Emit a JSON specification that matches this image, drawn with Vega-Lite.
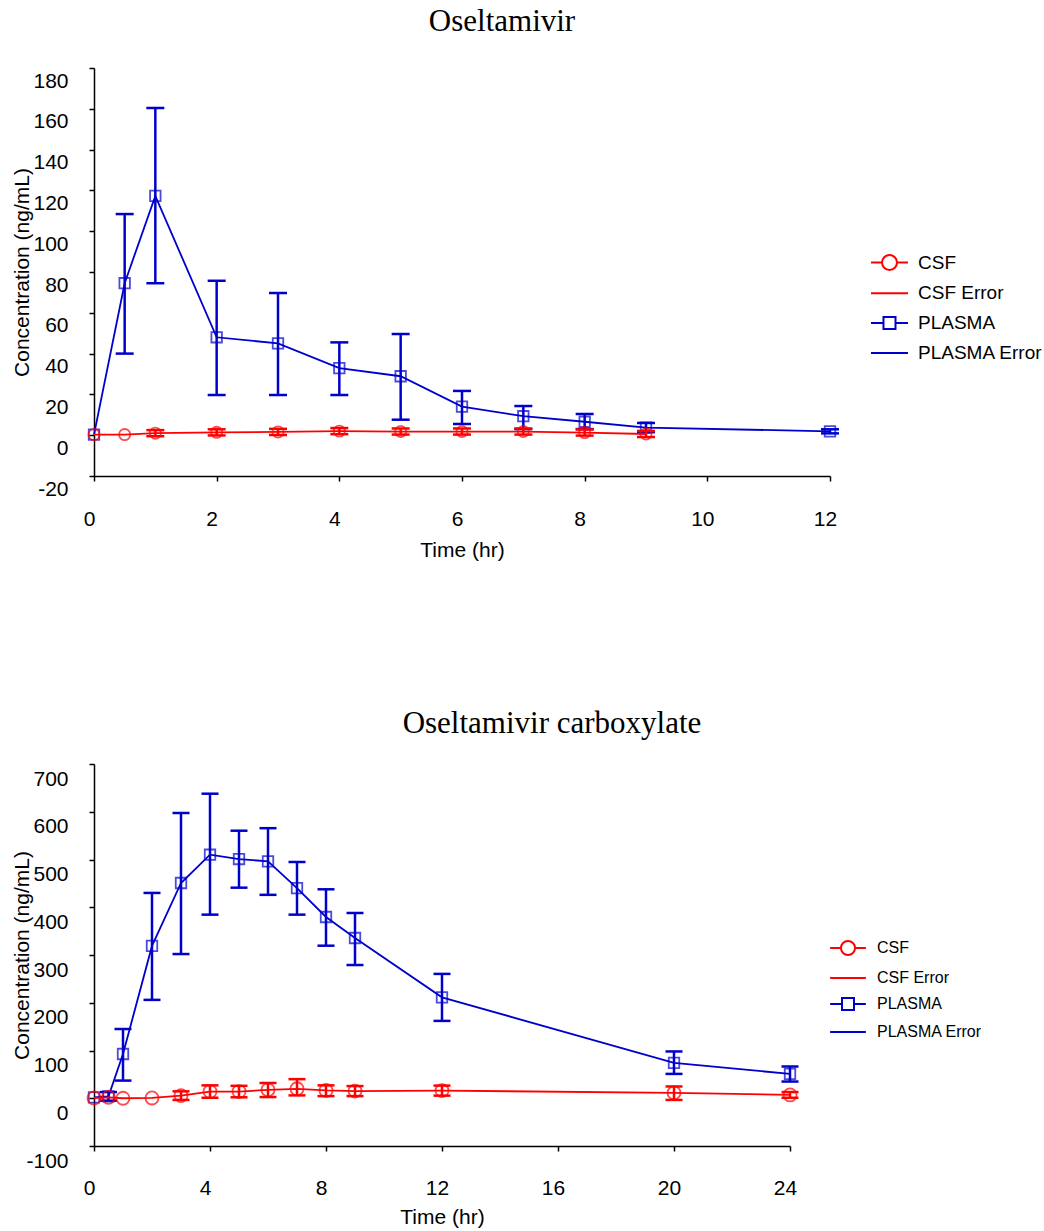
{
  "$schema": "https://vega.github.io/schema/vega-lite/v6.json",
  "background": "white",
  "padding": {"left": 11, "top": 6, "right": 4, "bottom": 4},
  "spacing": 148,
  "resolve": {"scale": {"color": "independent", "shape": "independent"}, "legend": {"color": "independent", "shape": "independent"}},
  "config": {
    "font": "Liberation Sans",
    "view": {"stroke": null},
    "axis": {"domainColor": "#000", "tickColor": "#000", "labelColor": "#000", "titleColor": "#000", "grid": false, "labelFont": "Liberation Sans", "titleFont": "Liberation Sans", "labelFontSize": 21, "titleFontSize": 21, "titleFontWeight": "normal", "tickSize": 5, "domainWidth": 1.5, "tickWidth": 1.5, "labelFlush": false, "labelOverlap": false, "labelExpr": "toString(datum.value)"},
    "title": {"font": "Liberation Serif", "fontSize": 31, "fontWeight": "normal", "color": "#000", "frame": "group", "anchor": "middle"},
    "legend": {"labelFont": "Liberation Sans", "labelColor": "#000"}
  },
  "datasets": {
    "top": [
      {"time": 0, "series": "PLASMA", "err": "PLASMA Error", "conc": 0.3},
      {"time": 0.5, "series": "PLASMA", "err": "PLASMA Error", "conc": 74.5, "lo": 40.0, "hi": 108.4},
      {"time": 1, "series": "PLASMA", "err": "PLASMA Error", "conc": 117.3, "lo": 74.5, "hi": 160.4},
      {"time": 2, "series": "PLASMA", "err": "PLASMA Error", "conc": 48.0, "lo": 19.7, "hi": 75.7},
      {"time": 3, "series": "PLASMA", "err": "PLASMA Error", "conc": 45.0, "lo": 19.7, "hi": 69.7},
      {"time": 4, "series": "PLASMA", "err": "PLASMA Error", "conc": 32.9, "lo": 19.7, "hi": 45.5},
      {"time": 5, "series": "PLASMA", "err": "PLASMA Error", "conc": 28.9, "lo": 7.6, "hi": 49.6},
      {"time": 6, "series": "PLASMA", "err": "PLASMA Error", "conc": 14.0, "lo": 5.5, "hi": 21.7},
      {"time": 7, "series": "PLASMA", "err": "PLASMA Error", "conc": 9.3, "lo": 3.0, "hi": 14.3},
      {"time": 8, "series": "PLASMA", "err": "PLASMA Error", "conc": 6.6, "lo": 3.0, "hi": 10.4},
      {"time": 9, "series": "PLASMA", "err": "PLASMA Error", "conc": 3.7, "lo": 1.5, "hi": 6.0},
      {"time": 12, "series": "PLASMA", "err": "PLASMA Error", "conc": 1.9, "lo": 0.9, "hi": 2.9},
      {"time": 0, "series": "CSF", "err": "CSF Error", "conc": 0.3},
      {"time": 0.5, "series": "CSF", "err": "CSF Error", "conc": 0.3},
      {"time": 1, "series": "CSF", "err": "CSF Error", "conc": 1.0, "lo": -0.5, "hi": 2.5},
      {"time": 2, "series": "CSF", "err": "CSF Error", "conc": 1.4, "lo": -0.1, "hi": 2.9},
      {"time": 3, "series": "CSF", "err": "CSF Error", "conc": 1.6, "lo": 0.1, "hi": 3.1},
      {"time": 4, "series": "CSF", "err": "CSF Error", "conc": 2.0, "lo": 0.5, "hi": 3.5},
      {"time": 5, "series": "CSF", "err": "CSF Error", "conc": 1.8, "lo": 0.3, "hi": 3.3},
      {"time": 6, "series": "CSF", "err": "CSF Error", "conc": 1.8, "lo": 0.3, "hi": 3.3},
      {"time": 7, "series": "CSF", "err": "CSF Error", "conc": 1.8, "lo": 0.3, "hi": 3.3},
      {"time": 8, "series": "CSF", "err": "CSF Error", "conc": 1.3, "lo": -0.2, "hi": 2.8},
      {"time": 9, "series": "CSF", "err": "CSF Error", "conc": 0.6, "lo": -0.9, "hi": 2.1}
    ],
    "bottom": [
      {"time": 0, "series": "PLASMA", "err": "PLASMA Error", "conc": 2},
      {"time": 0.5, "series": "PLASMA", "err": "PLASMA Error", "conc": 4, "lo": -5, "hi": 13},
      {"time": 1, "series": "PLASMA", "err": "PLASMA Error", "conc": 92.7, "lo": 37, "hi": 145},
      {"time": 2, "series": "PLASMA", "err": "PLASMA Error", "conc": 319, "lo": 206, "hi": 430},
      {"time": 3, "series": "PLASMA", "err": "PLASMA Error", "conc": 450.8, "lo": 302, "hi": 597.4},
      {"time": 4, "series": "PLASMA", "err": "PLASMA Error", "conc": 510, "lo": 384.5, "hi": 637.8},
      {"time": 5, "series": "PLASMA", "err": "PLASMA Error", "conc": 501, "lo": 441, "hi": 560.3},
      {"time": 6, "series": "PLASMA", "err": "PLASMA Error", "conc": 496, "lo": 426, "hi": 565.6},
      {"time": 7, "series": "PLASMA", "err": "PLASMA Error", "conc": 440, "lo": 384.5, "hi": 494.8},
      {"time": 8, "series": "PLASMA", "err": "PLASMA Error", "conc": 379.6, "lo": 319.5, "hi": 437.6},
      {"time": 9, "series": "PLASMA", "err": "PLASMA Error", "conc": 335.6, "lo": 279, "hi": 388},
      {"time": 12, "series": "PLASMA", "err": "PLASMA Error", "conc": 211.4, "lo": 162, "hi": 260.4},
      {"time": 20, "series": "PLASMA", "err": "PLASMA Error", "conc": 73.9, "lo": 51, "hi": 98},
      {"time": 24, "series": "PLASMA", "err": "PLASMA Error", "conc": 51, "lo": 35, "hi": 66.5},
      {"time": 0, "series": "CSF", "err": "CSF Error", "conc": 0.5},
      {"time": 0.5, "series": "CSF", "err": "CSF Error", "conc": 2},
      {"time": 1, "series": "CSF", "err": "CSF Error", "conc": 0},
      {"time": 2, "series": "CSF", "err": "CSF Error", "conc": 0.6},
      {"time": 3, "series": "CSF", "err": "CSF Error", "conc": 5.5, "lo": -3.5, "hi": 14.5},
      {"time": 4, "series": "CSF", "err": "CSF Error", "conc": 14, "lo": 1, "hi": 27},
      {"time": 5, "series": "CSF", "err": "CSF Error", "conc": 14, "lo": 2, "hi": 26},
      {"time": 6, "series": "CSF", "err": "CSF Error", "conc": 17.7, "lo": 2.5, "hi": 32},
      {"time": 7, "series": "CSF", "err": "CSF Error", "conc": 19.8, "lo": 6, "hi": 40},
      {"time": 8, "series": "CSF", "err": "CSF Error", "conc": 16.3, "lo": 4.5, "hi": 27},
      {"time": 9, "series": "CSF", "err": "CSF Error", "conc": 15, "lo": 4.5, "hi": 25.5},
      {"time": 12, "series": "CSF", "err": "CSF Error", "conc": 16, "lo": 5.5, "hi": 26.5},
      {"time": 20, "series": "CSF", "err": "CSF Error", "conc": 11.3, "lo": -3.5, "hi": 24.7},
      {"time": 24, "series": "CSF", "err": "CSF Error", "conc": 7, "lo": 1, "hi": 13}
    ]
  },
  "vconcat": [
    {
      "width": 736,
      "height": 408,
      "title": {"text": "Oseltamivir", "dx": 40, "offset": 29},
      "data": {"name": "top"},
      "encoding": {
        "x": {"field": "time", "type": "quantitative", "scale": {"domain": [0, 12], "nice": false, "zero": false}, "axis": {"values": [0, 2, 4, 6, 8, 10, 12], "title": "Time (hr)", "labelOffset": -5, "labelPadding": 27, "titlePadding": 10}}
      },
      "layer": [
        {"mark": {"type": "point", "opacity": 0, "filled": false, "strokeWidth": 2},
         "encoding": {
           "y": {"field": "conc", "type": "quantitative", "scale": {"domain": [-20, 180], "nice": false, "zero": false}, "axis": {"values": [-20, 0, 20, 40, 60, 80, 100, 120, 140, 160, 180], "title": "Concentration (ng/mL)", "labelOffset": 13, "labelPadding": 21, "minExtent": 58, "maxExtent": 58, "titlePadding": 4}},
           "color": {"field": "series", "type": "nominal", "scale": {"domain": ["CSF", "CSF Error", "PLASMA", "PLASMA Error"], "range": ["#ff0000", "#ff0000", "#0000cc", "#0000cc"]},
             "legend": {"title": null, "orient": "none", "legendX": 785, "legendY": 184, "padding": 0, "symbolSize": 342, "symbolOpacity": 1, "symbolStrokeWidth": 2, "symbolFillColor": "transparent", "labelFontSize": 19, "labelOffset": 18, "rowPadding": 8.8}},
           "shape": {"field": "series", "type": "nominal", "scale": {"domain": ["CSF", "CSF Error", "PLASMA", "PLASMA Error"], "range": ["M-2,0L-0.81,0M0.81,0L2,0M0.81,0A0.81,0.81 0 1 1 -0.81,0A0.81,0.81 0 1 1 0.81,0Z", "M-2,0L2,0", "M-2,0L-0.65,0M0.65,0L2,0M-0.65,-0.65L0.65,-0.65L0.65,0.65L-0.65,0.65Z", "M-2,0L2,0"]},
             "legend": {"title": null, "orient": "none", "legendX": 785, "legendY": 184, "padding": 0, "symbolSize": 342, "symbolOpacity": 1, "symbolStrokeWidth": 2, "symbolFillColor": "transparent", "labelFontSize": 19, "labelOffset": 18, "rowPadding": 8.8}}
         }},
        {"transform": [{"filter": "datum.series === 'PLASMA' && isValid(datum.lo)"}],
         "mark": {"type": "rule", "strokeWidth": 2.5},
         "encoding": {"y": {"field": "lo", "type": "quantitative", "title": "Concentration (ng/mL)"}, "y2": {"field": "hi"}, "color": {"field": "err", "type": "nominal"}}},
        {"transform": [{"filter": "datum.series === 'PLASMA' && isValid(datum.lo)"}],
         "mark": {"type": "rule", "strokeWidth": 2.5, "xOffset": -9, "x2Offset": 9},
         "encoding": {"x2": {"field": "time"}, "y": {"field": "lo", "type": "quantitative", "title": "Concentration (ng/mL)"}, "color": {"field": "err", "type": "nominal"}}},
        {"transform": [{"filter": "datum.series === 'PLASMA' && isValid(datum.lo)"}],
         "mark": {"type": "rule", "strokeWidth": 2.5, "xOffset": -9, "x2Offset": 9},
         "encoding": {"x2": {"field": "time"}, "y": {"field": "hi", "type": "quantitative", "title": "Concentration (ng/mL)"}, "color": {"field": "err", "type": "nominal"}}},
        {"transform": [{"filter": "datum.series === 'PLASMA'"}],
         "mark": {"type": "line", "strokeWidth": 1.8},
         "encoding": {"y": {"field": "conc", "type": "quantitative", "title": "Concentration (ng/mL)"}, "color": {"field": "series", "type": "nominal"}}},
        {"transform": [{"filter": "datum.series === 'PLASMA'"}],
         "mark": {"type": "point", "shape": "square", "size": 110, "filled": false, "strokeWidth": 1.8},
         "encoding": {"y": {"field": "conc", "type": "quantitative", "title": "Concentration (ng/mL)"}, "color": {"field": "series", "type": "nominal"}}},
        {"transform": [{"filter": "datum.series === 'CSF' && isValid(datum.lo)"}],
         "mark": {"type": "rule", "strokeWidth": 2.5},
         "encoding": {"y": {"field": "lo", "type": "quantitative", "title": "Concentration (ng/mL)"}, "y2": {"field": "hi"}, "color": {"field": "err", "type": "nominal"}}},
        {"transform": [{"filter": "datum.series === 'CSF' && isValid(datum.lo)"}],
         "mark": {"type": "rule", "strokeWidth": 2.5, "xOffset": -9, "x2Offset": 9},
         "encoding": {"x2": {"field": "time"}, "y": {"field": "lo", "type": "quantitative", "title": "Concentration (ng/mL)"}, "color": {"field": "err", "type": "nominal"}}},
        {"transform": [{"filter": "datum.series === 'CSF' && isValid(datum.lo)"}],
         "mark": {"type": "rule", "strokeWidth": 2.5, "xOffset": -9, "x2Offset": 9},
         "encoding": {"x2": {"field": "time"}, "y": {"field": "hi", "type": "quantitative", "title": "Concentration (ng/mL)"}, "color": {"field": "err", "type": "nominal"}}},
        {"transform": [{"filter": "datum.series === 'CSF'"}],
         "mark": {"type": "line", "strokeWidth": 1.8},
         "encoding": {"y": {"field": "conc", "type": "quantitative", "title": "Concentration (ng/mL)"}, "color": {"field": "series", "type": "nominal"}}},
        {"transform": [{"filter": "datum.series === 'CSF'"}],
         "mark": {"type": "point", "shape": "circle", "size": 125, "filled": false, "strokeWidth": 1.8},
         "encoding": {"y": {"field": "conc", "type": "quantitative", "title": "Concentration (ng/mL)"}, "color": {"field": "series", "type": "nominal"}}}
      ]
    },
    {
      "width": 696,
      "height": 382,
      "title": {"text": "Oseltamivir carboxylate", "dx": 110, "offset": 23},
      "data": {"name": "bottom"},
      "encoding": {
        "x": {"field": "time", "type": "quantitative", "scale": {"domain": [0, 24], "nice": false, "zero": false}, "axis": {"values": [0, 4, 8, 12, 16, 20, 24], "title": "Time (hr)", "labelOffset": -5, "labelPadding": 26, "titlePadding": 8}}
      },
      "layer": [
        {"mark": {"type": "point", "opacity": 0, "filled": false, "strokeWidth": 2},
         "encoding": {
           "y": {"field": "conc", "type": "quantitative", "scale": {"domain": [-100, 700], "nice": false, "zero": false}, "axis": {"values": [-100, 0, 100, 200, 300, 400, 500, 600, 700], "title": "Concentration (ng/mL)", "labelOffset": 15, "labelPadding": 21, "minExtent": 58, "maxExtent": 58, "titlePadding": 4}},
           "color": {"field": "series", "type": "nominal", "scale": {"domain": ["CSF", "CSF Error", "PLASMA", "PLASMA Error"], "range": ["#ff0000", "#ff0000", "#0000cc", "#0000cc"]},
             "legend": {"title": null, "orient": "none", "legendX": 744, "legendY": 174, "padding": 0, "symbolSize": 319, "symbolOpacity": 1, "symbolStrokeWidth": 2, "symbolFillColor": "transparent", "labelFontSize": 16, "labelOffset": 19, "rowPadding": 8}},
           "shape": {"field": "series", "type": "nominal", "scale": {"domain": ["CSF", "CSF Error", "PLASMA", "PLASMA Error"], "range": ["M-2,0L-0.79,0M0.79,0L2,0M0.79,0A0.79,0.79 0 1 1 -0.79,0A0.79,0.79 0 1 1 0.79,0Z", "M-2,0L2,0", "M-2,0L-0.67,0M0.67,0L2,0M-0.67,-0.67L0.67,-0.67L0.67,0.67L-0.67,0.67Z", "M-2,0L2,0"]},
             "legend": {"title": null, "orient": "none", "legendX": 744, "legendY": 174, "padding": 0, "symbolSize": 319, "symbolOpacity": 1, "symbolStrokeWidth": 2, "symbolFillColor": "transparent", "labelFontSize": 16, "labelOffset": 19, "rowPadding": 8}}
         }},
        {"transform": [{"filter": "datum.series === 'PLASMA' && isValid(datum.lo)"}],
         "mark": {"type": "rule", "strokeWidth": 2.5},
         "encoding": {"y": {"field": "lo", "type": "quantitative", "title": "Concentration (ng/mL)"}, "y2": {"field": "hi"}, "color": {"field": "err", "type": "nominal"}}},
        {"transform": [{"filter": "datum.series === 'PLASMA' && isValid(datum.lo)"}],
         "mark": {"type": "rule", "strokeWidth": 2.5, "xOffset": -8.5, "x2Offset": 8.5},
         "encoding": {"x2": {"field": "time"}, "y": {"field": "lo", "type": "quantitative", "title": "Concentration (ng/mL)"}, "color": {"field": "err", "type": "nominal"}}},
        {"transform": [{"filter": "datum.series === 'PLASMA' && isValid(datum.lo)"}],
         "mark": {"type": "rule", "strokeWidth": 2.5, "xOffset": -8.5, "x2Offset": 8.5},
         "encoding": {"x2": {"field": "time"}, "y": {"field": "hi", "type": "quantitative", "title": "Concentration (ng/mL)"}, "color": {"field": "err", "type": "nominal"}}},
        {"transform": [{"filter": "datum.series === 'PLASMA'"}],
         "mark": {"type": "line", "strokeWidth": 1.8},
         "encoding": {"y": {"field": "conc", "type": "quantitative", "title": "Concentration (ng/mL)"}, "color": {"field": "series", "type": "nominal"}}},
        {"transform": [{"filter": "datum.series === 'PLASMA'"}],
         "mark": {"type": "point", "shape": "square", "size": 110, "filled": false, "strokeWidth": 1.8},
         "encoding": {"y": {"field": "conc", "type": "quantitative", "title": "Concentration (ng/mL)"}, "color": {"field": "series", "type": "nominal"}}},
        {"transform": [{"filter": "datum.series === 'CSF' && isValid(datum.lo)"}],
         "mark": {"type": "rule", "strokeWidth": 2.5},
         "encoding": {"y": {"field": "lo", "type": "quantitative", "title": "Concentration (ng/mL)"}, "y2": {"field": "hi"}, "color": {"field": "err", "type": "nominal"}}},
        {"transform": [{"filter": "datum.series === 'CSF' && isValid(datum.lo)"}],
         "mark": {"type": "rule", "strokeWidth": 2.5, "xOffset": -8.5, "x2Offset": 8.5},
         "encoding": {"x2": {"field": "time"}, "y": {"field": "lo", "type": "quantitative", "title": "Concentration (ng/mL)"}, "color": {"field": "err", "type": "nominal"}}},
        {"transform": [{"filter": "datum.series === 'CSF' && isValid(datum.lo)"}],
         "mark": {"type": "rule", "strokeWidth": 2.5, "xOffset": -8.5, "x2Offset": 8.5},
         "encoding": {"x2": {"field": "time"}, "y": {"field": "hi", "type": "quantitative", "title": "Concentration (ng/mL)"}, "color": {"field": "err", "type": "nominal"}}},
        {"transform": [{"filter": "datum.series === 'CSF'"}],
         "mark": {"type": "line", "strokeWidth": 1.8},
         "encoding": {"y": {"field": "conc", "type": "quantitative", "title": "Concentration (ng/mL)"}, "color": {"field": "series", "type": "nominal"}}},
        {"transform": [{"filter": "datum.series === 'CSF'"}],
         "mark": {"type": "point", "shape": "circle", "size": 170, "filled": false, "strokeWidth": 1.8},
         "encoding": {"y": {"field": "conc", "type": "quantitative", "title": "Concentration (ng/mL)"}, "color": {"field": "series", "type": "nominal"}}}
      ]
    }
  ]
}
